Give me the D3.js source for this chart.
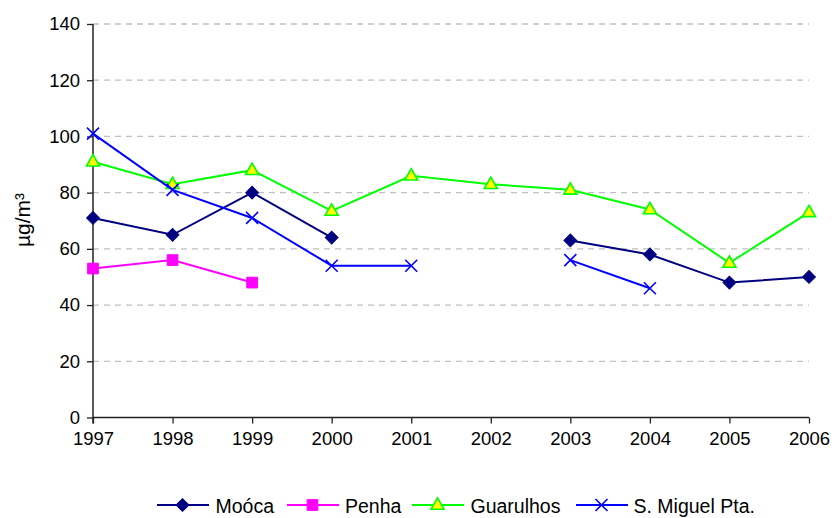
<!DOCTYPE html>
<html>
<head>
<meta charset="utf-8">
<script src="https://cdn.jsdelivr.net/npm/d3@7"></script>
<style>
  html, body { margin: 0; padding: 0; background: #fff; }
  svg text { font-family: "Liberation Sans", Arial, Helvetica, sans-serif; fill: #000; }
</style>
</head>
<body>
<svg id="chart" width="835" height="518"></svg>
<script>
// Annual mean concentrations (µg/m³) per monitoring station; null = no data
const years = [1997, 1998, 1999, 2000, 2001, 2002, 2003, 2004, 2005, 2006];
const mooca     = [71, 65, 80, 64, null, null, 63, 58, 48, 50];
const penha     = [53, 56, 48, null, null, null, null, null, null, null];
const guarulhos = [91, 83, 88, 73.5, 86, 83, 81, 74, 55, 73];
const smiguel   = [101, 81, 71, 54, 54, null, 56, 46, null, null];
const yTicks = [0, 20, 40, 60, 80, 100, 120, 140];
const seriesNames = ["Moóca", "Penha", "Guarulhos", "S. Miguel Pta."];

const series = [
  { name: seriesNames[0], values: mooca,     stroke: "#000080", marker: "diamond" },
  { name: seriesNames[1], values: penha,     stroke: "#ff00ff", marker: "square" },
  { name: seriesNames[2], values: guarulhos, stroke: "#00ff00", marker: "triangle" },
  { name: seriesNames[3], values: smiguel,   stroke: "#0000ff", marker: "cross" }
];

const svg = d3.select("#chart");
const plotLeft = 93, plotRight = 809, plotTop = 24, plotBottom = 417.5;

const x = d3.scaleLinear().domain([years[0], years[years.length - 1]]).range([plotLeft, plotRight]);
const y = d3.scaleLinear().domain([0, 140]).range([plotBottom, plotTop]);

// dashed horizontal gridlines
svg.append("g")
  .selectAll("line")
  .data(yTicks.filter(v => v > 0))
  .join("line")
  .attr("x1", plotLeft).attr("x2", plotRight)
  .attr("y1", d => y(d)).attr("y2", d => y(d))
  .attr("stroke", "#c0c0c0")
  .attr("stroke-width", 1.3)
  .attr("stroke-dasharray", "6,5");

// y axis
const yAxis = svg.append("g")
  .attr("transform", `translate(${plotLeft},0)`)
  .call(d3.axisLeft(y).tickValues(yTicks).tickSize(6).tickPadding(7).tickSizeOuter(0));
yAxis.select(".domain").attr("stroke", "#222").attr("stroke-width", 1.5)
  .attr("d", `M0,${plotTop}V${plotBottom + 6}`);
yAxis.selectAll(".tick line").attr("stroke", "#222").attr("stroke-width", 1.3);
yAxis.selectAll(".tick text").attr("font-size", 18.5).style("font-family", '"Liberation Sans", Arial, sans-serif');

// x axis
const xAxis = svg.append("g")
  .attr("transform", `translate(0,${plotBottom})`)
  .call(d3.axisBottom(x).tickValues(years).tickFormat(d3.format("d")).tickSize(6).tickPadding(8).tickSizeOuter(0));
xAxis.select(".domain").attr("stroke", "#222").attr("stroke-width", 1.5)
  .attr("d", `M${plotLeft},0H${plotRight}`);
xAxis.selectAll(".tick line").attr("stroke", "#222").attr("stroke-width", 1.3);
xAxis.selectAll(".tick text").attr("font-size", 18.5).style("font-family", '"Liberation Sans", Arial, sans-serif');

// y axis title
svg.append("text")
  .attr("transform", "translate(30,220) rotate(-90)")
  .attr("text-anchor", "middle")
  .attr("font-size", 21)
  .text("µg/m³");

// marker drawing
function drawMarker(g, type, color) {
  if (type === "diamond") {
    g.append("path")
      .attr("d", d3.symbol(d3.symbolSquare, 82)())
      .attr("transform", "rotate(45)")
      .attr("fill", color).attr("stroke", color).attr("stroke-width", 1);
  } else if (type === "square") {
    g.append("path")
      .attr("d", d3.symbol(d3.symbolSquare, 115)())
      .attr("fill", color).attr("stroke", color).attr("stroke-width", 1);
  } else if (type === "triangle") {
    g.append("path")
      .attr("d", d3.symbol(d3.symbolTriangle, 74)())
      .attr("transform", "translate(0,0.5)")
      .attr("fill", "#ffff00").attr("stroke", "#00ff00").attr("stroke-width", 1.6);
  } else if (type === "cross") {
    g.append("path")
      .attr("d", "M-6,-6L6,6M-6,6L6,-6")
      .attr("fill", "none").attr("stroke", color).attr("stroke-width", 1.6);
  }
}

// series lines and markers
series.forEach(s => {
  const pts = years.map((yr, i) => ({ yr, v: s.values[i] }));
  const line = d3.line()
    .defined(d => d.v != null)
    .x(d => x(d.yr))
    .y(d => y(d.v));
  svg.append("path")
    .datum(pts)
    .attr("d", line)
    .attr("fill", "none")
    .attr("stroke", s.stroke)
    .attr("stroke-width", 2);
  const mg = svg.append("g");
  pts.filter(d => d.v != null).forEach(d => {
    const g = mg.append("g").attr("transform", `translate(${x(d.yr)},${y(d.v)})`);
    drawMarker(g, s.marker, s.stroke);
  });
});

// legend
const legendItems = [
  { lineX: 157, textX: 215.5 },
  { lineX: 287, textX: 345 },
  { lineX: 412, textX: 470.5 },
  { lineX: 576, textX: 633.5 }
];
const ly = 505;
series.forEach((s, i) => {
  const li = legendItems[i];
  const g = svg.append("g");
  g.append("line")
    .attr("x1", li.lineX).attr("x2", li.lineX + 52)
    .attr("y1", ly).attr("y2", ly)
    .attr("stroke", s.stroke).attr("stroke-width", 2);
  const m = g.append("g").attr("transform", `translate(${li.lineX + 25.5},${ly})`);
  drawMarker(m, s.marker, s.stroke);
  g.append("text")
    .attr("x", li.textX).attr("y", ly + 7.5)
    .attr("font-size", 19.5)
    .text(s.name);
});
</script>
</body>
</html>
